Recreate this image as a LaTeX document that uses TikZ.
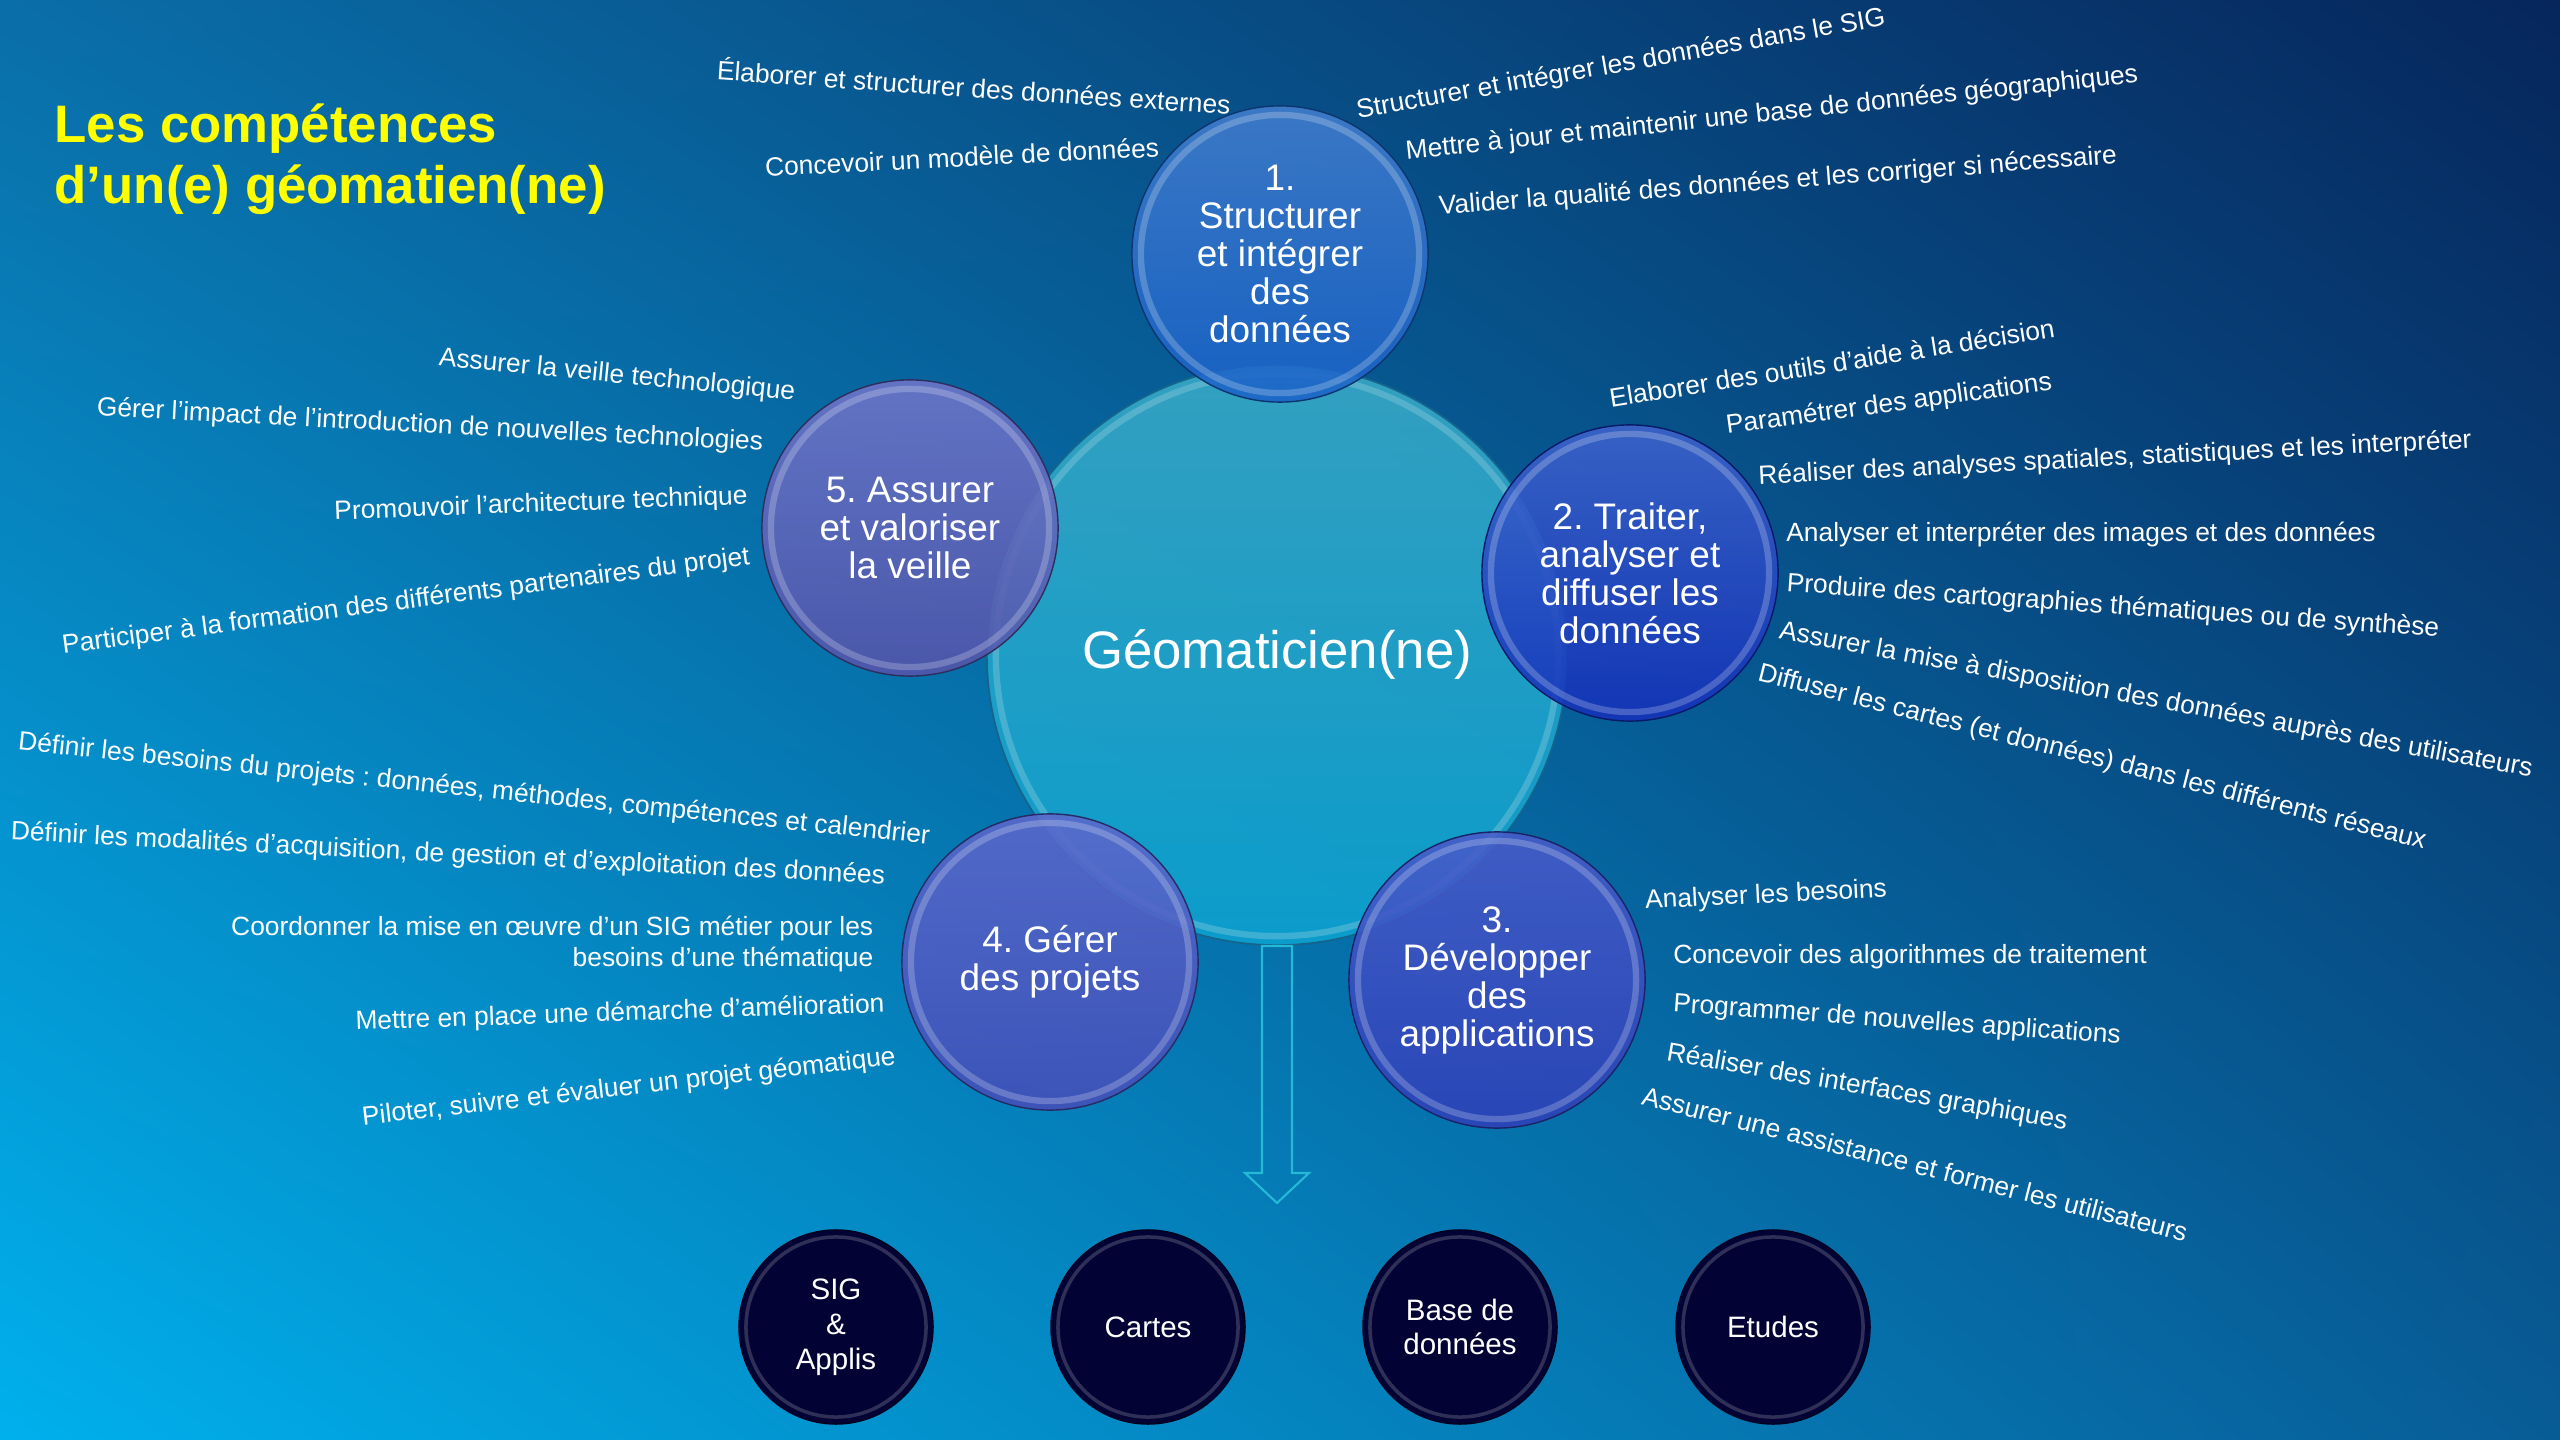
\documentclass[tikz,border=0pt]{standalone}
\usepackage{fontspec}
\setmainfont{Liberation Sans}
\usetikzlibrary{calc,shadings}

\definecolor{bgul}{RGB}{10,110,168}
\definecolor{bgur}{RGB}{6,38,92}
\definecolor{bgll}{RGB}{0,176,236}
\definecolor{bglr}{RGB}{8,92,150}
\definecolor{geotop}{RGB}{55,166,196}
\definecolor{geobot}{RGB}{12,160,206}
\definecolor{geoedge}{RGB}{20,100,140}
\definecolor{titre}{RGB}{255,255,0}
\definecolor{flecheout}{RGB}{35,185,215}
\definecolor{navy}{RGB}{2,3,52}
\definecolor{unhaut}{RGB}{66,126,206}
\definecolor{unbas}{RGB}{26,98,200}
\definecolor{deuxhaut}{RGB}{62,100,204}
\definecolor{deuxbas}{RGB}{20,48,186}
\definecolor{troishaut}{RGB}{72,92,202}
\definecolor{troisbas}{RGB}{46,64,184}
\definecolor{quatrehaut}{RGB}{92,104,204}
\definecolor{quatrebas}{RGB}{68,78,184}
\definecolor{cinqhaut}{RGB}{112,118,202}
\definecolor{cinqbas}{RGB}{84,84,170}

\begin{document}
\frenchspacing
\begin{tikzpicture}[x=0.01cm,y=-0.01cm,
    task/.style={text=white,inner sep=0pt,font=\fontsize{7.5}{9}\selectfont},
    bubble/.style 2 args={circle,minimum size=2.96cm,inner sep=0pt,align=center,
      top color=#1,bottom color=#2,draw=#2!55!black,line width=.4pt,
      fill opacity=.88,text opacity=1,text=white,
      font=\fontsize{10.5}{10.8}\selectfont,
      path picture={\draw[white,opacity=.22,line width=1.8pt]
        (path picture bounding box.center) circle (1.39cm);}},
    output/.style={circle,minimum size=1.94cm,inner sep=0pt,align=center,
      fill=navy,draw=navy!60!black,text=white,
      font=\fontsize{8.4}{9.9}\selectfont,
      path picture={\draw[white!30!navy,opacity=.6,line width=1pt]
        (path picture bounding box.center) circle (.9cm);}}]
  \useasboundingbox (0,0) rectangle (2560,1440);
  \shade[upper left=bgul,upper right=bgur,lower left=bgll,lower right=bglr]
    (0,0) rectangle (2560,1440);

  % titre
  \node[anchor=base west,align=left,inner sep=0pt,text=titre,
    font=\fontsize{15}{17.6}\selectfont\bfseries] (title) at (54,204)
    {Les compétences\\d’un(e) géomatien(ne)};

  % cercle central
  \node[circle,minimum size=5.8cm,inner sep=0pt,top color=geotop,
    bottom color=geobot,draw=geoedge,line width=.5pt,fill opacity=.92,
    text opacity=1,text=white,font=\fontsize{15}{18}\selectfont,
    path picture={\draw[white!50!geotop,opacity=.35,line width=1.8pt]
      (path picture bounding box.center) circle (2.81cm);}]
    (geo) at (1277,655) {Géomaticien(ne)};

  % fleche vers les productions
  \coordinate (pointe) at (1277,1203);
  \draw[flecheout,line width=.6pt]
    ($(geo.south)+(-15,0)$) -- ($(pointe)+(-15,-30)$) -- ($(pointe)+(-32,-30)$)
    -- (pointe) -- ($(pointe)+(32,-30)$) -- ($(pointe)+(15,-30)$)
    -- ($(geo.south)+(15,0)$) -- cycle;

  % les cinq competences
  \node[bubble={unhaut}{unbas}] (struct) at (1280,254)
    {1.\\Structurer\\et intégrer\\des\\données};
  \node[bubble={deuxhaut}{deuxbas}] (traiter) at (1630,573)
    {2. Traiter,\\analyser et\\diffuser les\\données};
  \node[bubble={troishaut}{troisbas}] (dev) at (1497,980)
    {3.\\Développer\\des\\applications};
  \node[bubble={quatrehaut}{quatrebas}] (projets) at (1050,962)
    {4. Gérer\\des projets};
  \node[bubble={cinqhaut}{cinqbas}] (veille) at (910,528)
    {5. Assurer\\et valoriser\\la veille};

  % 1. structurer
  \node[task,rotate=-3.9] (struct1) at (974,86) {Élaborer et structurer des données externes};
  \node[task,rotate=2.9] (struct2) at (962,157) {Concevoir un modèle de données};
  \node[task,rotate=10] (struct3) at (1621,65) {Structurer et intégrer les données dans le SIG};
  \node[task,rotate=6] (struct4) at (1772,114) {Mettre à jour et maintenir une base de données géographiques};
  \node[task,rotate=4.3] (struct5) at (1778,182) {Valider la qualité des données et les corriger si nécessaire};

  % 2. traiter
  \node[task,rotate=9] (traiter1) at (1832,363) {Elaborer des outils d’aide à la décision};
  \node[task,rotate=7.7] (traiter2) at (1889,405) {Paramétrer des applications};
  \node[task,rotate=2.9] (traiter3) at (2115,459) {Réaliser des analyses spatiales, statistiques et les interpréter};
  \node[task] (traiter4) at (2081,535) {Analyser et interpréter des images et des données};
  \node[task,rotate=-4] (traiter5) at (2113,607) {Produire des cartographies thématiques ou de synthèse};
  \node[task,rotate=-10.4] (traiter6) at (2156,701) {Assurer la mise à disposition des données auprès des utilisateurs};
  \node[task,rotate=-14.2] (traiter7) at (2092,758) {Diffuser les cartes (et données) dans les différents réseaux};

  % 3. developper
  \node[task,rotate=2.8] (dev1) at (1766,896) {Analyser les besoins};
  \node[task] (dev2) at (1910,957) {Concevoir des algorithmes de traitement};
  \node[task,rotate=-4.1] (dev3) at (1897,1021) {Programmer de nouvelles applications};
  \node[task,rotate=-9.8] (dev4) at (1867,1088) {Réaliser des interfaces graphiques};
  \node[task,rotate=-14.2] (dev5) at (1915,1164) {Assurer une assistance et former les utilisateurs};

  % 4. projets
  \node[task,rotate=-5.9] (projets1) at (474,790) {Définir les besoins du projets : données, méthodes, compétences et calendrier};
  \node[task,rotate=-2.9] (projets2) at (448,855) {Définir les modalités d’acquisition, de gestion et d’exploitation des données};
  \node[task,anchor=east,align=right] (projets3) at (874,944)
    {Coordonner la mise en œuvre d’un SIG métier pour les\\besoins d’une thématique};
  \node[task,rotate=1.9] (projets4) at (620,1014) {Mettre en place une démarche d’amélioration};
  \node[task,rotate=6.5] (projets5) at (629,1088) {Piloter, suivre et évaluer un projet géomatique};

  % 5. veille
  \node[task,rotate=-5.6] (veille1) at (617,376) {Assurer la veille technologique};
  \node[task,rotate=-3] (veille2) at (430,426) {Gérer l’impact de l’introduction de nouvelles technologies};
  \node[task,rotate=2.2] (veille3) at (541,505) {Promouvoir l’architecture technique};
  \node[task,rotate=7.4] (veille4) at (406,602) {Participer à la formation des différents partenaires du projet};

  % productions
  \node[output] (sig) at (836,1327) {SIG\\\&\\Applis};
  \node[output] (cartes) at (1148,1327) {Cartes};
  \node[output] (bdd) at (1460,1327) {Base de\\données};
  \node[output] (etudes) at (1773,1327) {Etudes};
\end{tikzpicture}
\end{document}
